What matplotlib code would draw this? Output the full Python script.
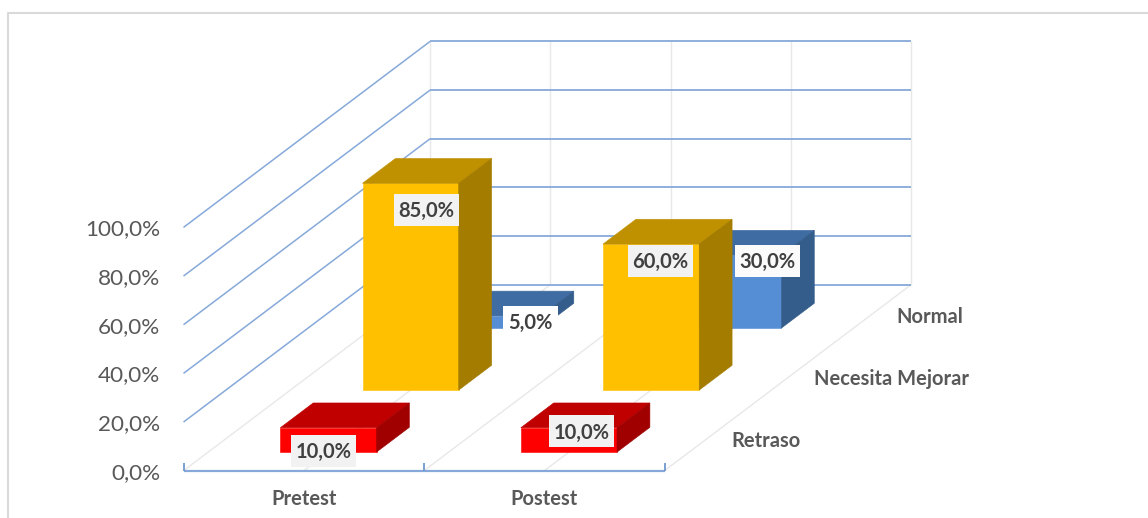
import matplotlib
matplotlib.use("Agg")
import matplotlib.pyplot as plt
from matplotlib.patches import Polygon, Rectangle

plt.rcParams['font.family'] = ['Lato', 'DejaVu Sans']

# ---- data ----
categories = ["Pretest", "Postest"]
series_names = ["Retraso", "Necesita Mejorar", "Normal"]
retraso = [10.0, 10.0]
necesita = [85.0, 60.0]
normal_vals = [5.0, 30.0]
y_ticks = [0, 20, 40, 60, 80, 100]
y_tick_labels = ["0,0%", "20,0%", "40,0%", "60,0%", "80,0%", "100,0%"]

# ---- oblique projection (pixel scale of the reference) ----
X0, Y0 = 183.5, 470.7
CAT_W = 240.5
DEPTH_DX, DEPTH_DY = 82.2, -62.0
VAL_H = 2.433


def project(x, d, v=0.0):
    return (X0 + x * CAT_W + d * DEPTH_DX, Y0 + d * DEPTH_DY - v * VAL_H)


fig = plt.figure(figsize=(11.48, 5.18), dpi=100, facecolor="white")
ax = fig.add_axes([0, 0, 1, 1])
ax.set_xlim(0, 1148)
ax.set_ylim(518, 0)
ax.axis("off")

GRID = "#86a9d9"
LIGHT = "#e8e8e8"
TXT = "#595959"
n_cat = len(categories)
n_ser = len(series_names)

# chart frame (top and left only)
ax.plot([8, 8, 1148], [518, 13, 13], color="#d9d9d9", lw=1.5, zorder=1)


def seg(a, b, **kw):
    ax.plot([a[0], b[0]], [a[1], b[1]], solid_capstyle="butt", **kw)


# light verticals on the back wall and floor lines
for i in range(2 * n_cat + 1):
    x = i / 2
    seg(project(x, n_ser, 0), project(x, n_ser, 100), color=LIGHT, lw=1.0, zorder=2)
    seg(project(x, 0, 0), project(x, n_ser, 0), color=LIGHT, lw=1.0, zorder=2)

# value gridlines on side wall and back wall
for v in y_ticks:
    if v > 0:
        seg(project(0, 0, v), project(0, n_ser, v), color=GRID, lw=1.1, zorder=3)
    seg(project(0, n_ser, v), project(n_cat, n_ser, v), color=GRID, lw=1.3, zorder=3)

# front axis with ticks
seg(project(0, 0), project(n_cat, 0), color=GRID, lw=1.6, zorder=3)
for i in range(n_cat + 1):
    p = project(i, 0)
    seg(p, (p[0], p[1] - 8), color="#6f97cf", lw=1.3, zorder=3)

BAR_L, BAR_R = 0.3, 0.7
D_F, D_B = 0.3, 0.7
styles = [
    ("#FF0000", "#C00000", "#A00000"),
    ("#FFC000", "#BF9000", "#A37C00"),
    ("#558ED5", "#3F6CA3", "#355D8B"),
]
values = [retraso, necesita, normal_vals]


def bar3d(ci, si, val, colors, z):
    front, top, side = colors
    l, r = ci + BAR_L, ci + BAR_R
    f, b = si + D_F, si + D_B
    faces = [
        ([project(l, f, 0), project(r, f, 0), project(r, f, val), project(l, f, val)], front),
        ([project(l, f, val), project(r, f, val), project(r, b, val), project(l, b, val)], top),
        ([project(r, f, 0), project(r, b, 0), project(r, b, val), project(r, f, val)], side),
    ]
    for pts, c in faces:
        ax.add_patch(Polygon(pts, closed=True, facecolor=c, edgecolor=c, lw=0.4, zorder=z))


for si in reversed(range(n_ser)):
    for ci in range(n_cat):
        bar3d(ci, si, values[si][ci], styles[si], 10 + (n_ser - si) * 2 + ci * 0.1)

# data labels (centre offset from the bar's front-top centre)
label_offsets = {
    (0, 0): (-5, 23), (0, 1): (16, 26.7), (0, 2): (37.7, 6),
    (1, 0): (12.6, 3.7), (1, 1): (9.4, 17), (1, 2): (34.2, 6),
}
label_faces = {
    (0, 0): "#f2f2f2", (0, 1): "#f2f2f2", (0, 2): "#ffffff",
    (1, 0): "#f2f2f2", (1, 1): "#f2f2f2", (1, 2): "#fbfbfb",
}
for si in range(n_ser):
    for ci in range(n_cat):
        val = values[si][ci]
        px, py = project(ci + 0.5, si + D_F, val)
        dx, dy = label_offsets[(ci, si)]
        lab = f"{val:.1f}%".replace(".", ",")
        bw = 65 if len(lab) > 4 else 55
        ax.add_patch(Rectangle((px + dx - bw / 2, py + dy - 16), bw, 32, facecolor=label_faces[(ci, si)],
                               edgecolor="none", zorder=29))
        ax.text(px + dx, py + dy + 1, lab, ha="center", va="center",
                fontsize=14.5, fontweight="bold", color="#404040", zorder=30)

# axis text
for v, lab in zip(y_ticks, y_tick_labels):
    p = project(0, 0, v)
    ax.text(160, p[1] + 2, lab, ha="right", va="center", fontsize=16.2, color=TXT, zorder=5)
for i, cat in enumerate(categories):
    p = project(i + 0.5, 0)
    ax.text(p[0] + 0, p[1] + 28, cat, ha="center", va="center", fontsize=14.5,
            fontweight="bold", color=TXT, zorder=5)
for si, name in enumerate(series_names):
    p = project(n_cat, si + 0.5)
    ax.text(p[0] + 26, p[1] + 1, name, ha="left", va="center", fontsize=14.5,
            fontweight="bold", color=TXT, zorder=5)

fig.savefig("out.png", dpi=100, facecolor="white")
